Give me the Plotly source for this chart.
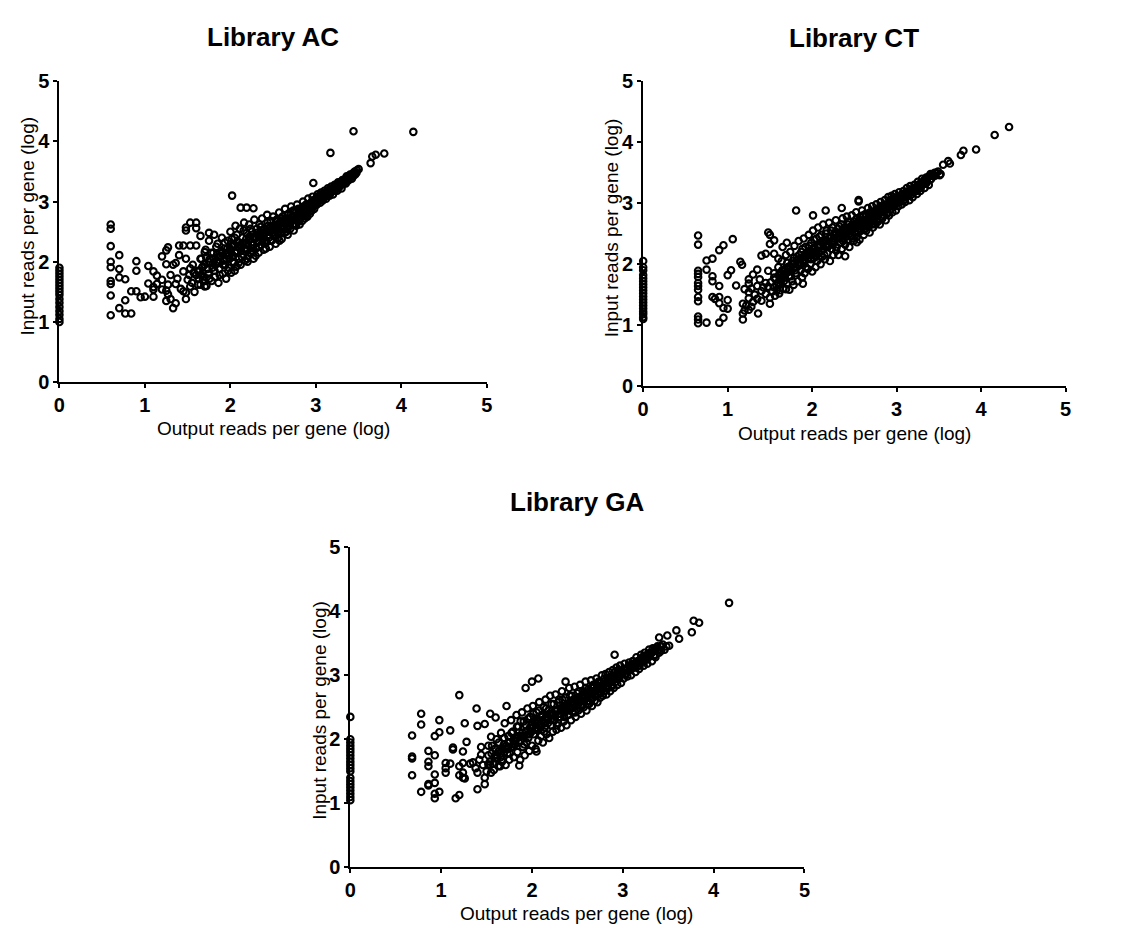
import plotly.graph_objects as go

# ---------------- data (log10 reads per gene) ----------------
panel_titles = ["Library AC", "Library CT", "Library GA"]
tick_vals = [0, 1, 2, 3, 4, 5]
x_title = "Output reads per gene (log)"
y_title = "Input reads per gene (log)"

# --- Library AC ---
ac_zero_y = [1.00, 1.05, 1.12, 1.18, 1.25, 1.32, 1.38, 1.45, 1.50, 1.55, 1.60, 1.65,
             1.70, 1.75, 1.80, 1.85, 1.90]
ac_sparse = [(0.60, 2.62), (0.60, 2.55), (0.60, 2.26), (0.60, 2.00), (0.60, 1.91),
             (0.60, 1.68), (0.60, 1.63), (0.60, 1.44), (0.60, 1.11), (0.70, 2.11),
             (0.70, 1.88), (0.70, 1.74), (0.70, 1.23), (0.77, 1.71), (0.77, 1.36),
             (0.77, 1.14), (0.84, 1.14), (0.84, 1.51), (0.90, 2.01), (0.90, 1.85),
             (0.90, 1.51), (0.95, 1.41), (1.00, 1.42), (1.04, 1.93), (1.04, 1.64),
             (1.10, 1.84), (1.10, 1.58), (1.10, 1.42), (1.10, 1.54), (1.14, 1.77),
             (1.14, 1.63), (1.20, 2.09), (1.20, 1.70), (1.20, 1.54), (1.25, 2.19),
             (1.25, 1.96), (1.25, 1.52), (1.25, 1.35), (1.27, 2.24), (1.27, 1.62),
             (1.27, 1.46), (1.30, 1.78), (1.30, 1.38), (1.33, 1.23), (1.33, 1.95),
             (1.36, 1.98), (1.36, 1.63), (1.36, 1.31), (1.40, 2.27), (1.40, 2.11),
             (1.45, 2.27), (1.45, 1.84), (1.45, 1.51), (1.48, 2.57), (1.48, 2.52),
             (1.48, 2.05), (1.48, 1.49), (1.48, 1.38), (1.53, 2.65), (1.53, 2.27),
             (1.53, 1.89), (1.53, 1.59), (1.60, 2.65), (1.60, 2.56), (1.60, 2.27),
             (1.60, 1.78), (1.65, 2.43), (1.65, 2.05), (1.65, 1.62), (1.70, 2.16),
             (1.70, 1.68), (1.70, 1.59), (1.75, 2.48), (1.75, 2.00), (1.38, 1.72),
             (1.42, 1.55), (1.50, 1.70), (1.56, 1.95), (1.58, 1.50), (1.62, 1.85),
             (1.52, 1.78), (1.55, 1.65), (1.57, 1.82), (1.63, 1.72), (1.67, 1.90)]
ac_band = [(1.62, 1.62), (1.64, 1.85), (1.66, 2.05), (1.68, 1.70), (1.70, 1.95),
           (1.71, 2.20), (1.72, 1.60), (1.74, 1.80), (1.75, 2.35), (1.76, 2.05),
           (1.78, 1.68), (1.79, 1.90), (1.80, 2.15), (1.81, 2.45), (1.82, 1.75),
           (1.84, 2.00), (1.85, 2.30), (1.86, 1.65), (1.87, 1.88), (1.88, 2.10),
           (1.90, 2.40), (1.91, 1.80), (1.92, 2.02), (1.93, 2.22), (1.94, 1.95),
           (1.95, 1.72), (1.96, 2.15), (1.97, 2.35), (1.98, 1.90), (1.99, 2.05),
           (2.00, 2.50), (2.01, 1.82), (2.02, 2.25), (2.03, 2.10), (2.04, 1.98),
           (2.05, 2.40), (2.06, 2.60), (2.07, 1.92), (2.08, 2.18), (2.09, 2.32),
           (2.10, 2.05), (2.11, 2.55), (2.12, 1.95), (2.13, 2.25), (2.14, 2.40),
           (2.15, 2.12), (2.16, 2.65), (2.17, 2.02), (2.18, 2.30), (2.19, 2.48),
           (2.20, 2.20), (2.21, 2.10), (2.22, 2.62), (2.23, 2.38), (2.24, 2.15),
           (2.25, 2.50), (2.26, 2.28), (2.27, 2.05), (2.28, 2.70), (2.29, 2.42),
           (2.30, 2.22), (2.31, 2.55), (2.32, 2.32), (2.33, 2.15), (2.34, 2.62),
           (2.35, 2.45), (2.36, 2.28), (2.37, 2.72), (2.38, 2.38), (2.39, 2.20),
           (2.40, 2.55), (2.41, 2.48), (2.42, 2.32), (2.43, 2.78), (2.44, 2.60),
           (2.45, 2.40), (2.46, 2.25), (2.47, 2.68), (2.48, 2.52), (2.49, 2.36),
           (2.50, 2.75), (2.51, 2.60), (2.52, 2.45), (2.53, 2.30), (2.54, 2.70),
           (2.55, 2.55), (2.56, 2.40), (2.57, 2.82), (2.58, 2.65), (2.59, 2.50),
           (2.60, 2.38), (2.61, 2.75), (2.62, 2.60), (2.63, 2.48), (2.64, 2.88),
           (2.65, 2.70), (2.66, 2.55), (2.67, 2.45), (2.68, 2.80), (2.69, 2.65),
           (2.70, 2.55), (2.71, 2.92), (2.72, 2.75), (2.73, 2.62), (2.74, 2.52),
           (2.75, 2.85), (2.76, 2.70), (2.77, 2.60), (2.78, 2.95), (2.79, 2.80),
           (2.80, 2.68), (2.81, 2.62), (2.82, 2.88), (2.83, 2.75), (2.84, 2.68),
           (2.85, 3.00), (2.86, 2.82), (2.87, 2.72), (2.88, 2.92), (2.89, 2.80),
           (2.90, 2.75), (2.91, 3.05), (2.92, 2.88), (2.93, 2.80), (2.94, 2.98),
           (2.95, 2.85), (2.96, 3.08), (2.97, 2.92), (2.98, 2.88), (3.00, 3.05),
           (3.01, 2.95), (3.02, 3.12), (3.03, 3.00), (3.05, 2.98), (3.06, 3.15),
           (3.07, 3.05), (3.08, 3.02), (3.10, 3.18), (3.11, 3.08), (3.12, 3.05),
           (3.14, 3.22), (3.15, 3.12), (3.16, 3.10), (3.18, 3.25), (3.19, 3.18),
           (3.20, 3.12), (3.22, 3.28), (3.23, 3.20), (3.25, 3.18), (3.26, 3.32),
           (3.28, 3.25), (3.30, 3.22), (3.31, 3.36), (3.33, 3.30), (3.35, 3.30),
           (3.36, 3.42), (3.38, 3.35), (3.40, 3.45), (3.42, 3.38), (3.44, 3.48),
           (3.46, 3.45), (3.48, 3.52), (3.50, 3.54)]
ac_band2 = [(1.655, 1.78), (1.675, 1.92), (1.695, 1.75), (1.715, 2.08), (1.735, 1.88),
            (1.755, 1.72), (1.775, 2.15), (1.795, 1.98), (1.815, 1.85), (1.835, 2.25),
            (1.855, 2.08), (1.875, 1.78), (1.895, 2.18), (1.915, 1.95), (1.935, 2.32),
            (1.955, 2.05), (1.975, 1.85), (1.995, 2.22), (2.015, 2.38), (2.035, 2.00),
            (2.055, 2.15), (2.075, 2.45), (2.095, 1.98), (2.115, 2.28), (2.135, 2.08),
            (2.155, 2.52), (2.175, 2.20), (2.195, 2.05), (2.215, 2.35), (2.235, 2.55),
            (2.255, 2.18), (2.275, 2.40), (2.295, 2.10), (2.315, 2.45), (2.335, 2.25),
            (2.355, 2.58), (2.375, 2.35), (2.395, 2.48), (2.415, 2.22), (2.435, 2.65),
            (2.455, 2.50), (2.475, 2.35), (2.495, 2.58), (2.515, 2.42), (2.535, 2.68),
            (2.555, 2.48), (2.575, 2.35), (2.595, 2.72), (2.615, 2.55), (2.635, 2.65),
            (2.655, 2.50), (2.675, 2.78), (2.695, 2.60), (2.715, 2.68), (2.735, 2.85),
            (2.755, 2.62), (2.775, 2.75), (2.795, 2.88), (2.815, 2.72), (2.835, 2.82),
            (2.855, 2.92), (2.875, 2.78), (2.895, 2.88), (2.915, 2.95), (2.935, 2.85),
            (2.955, 2.92), (2.975, 3.02), (2.995, 2.95), (3.015, 3.08), (3.035, 3.02),
            (3.055, 3.10), (3.075, 3.12), (3.095, 3.08), (3.115, 3.15), (3.135, 3.10),
            (3.155, 3.20), (3.175, 3.15), (3.195, 3.22), (3.215, 3.18), (3.235, 3.25),
            (3.255, 3.22), (3.275, 3.30), (3.295, 3.28), (3.315, 3.30), (3.335, 3.35),
            (3.355, 3.35), (3.375, 3.40), (3.395, 3.40), (3.415, 3.44), (3.435, 3.42),
            (3.455, 3.50), (3.475, 3.48)]
ac_core = [(1.805, 2.05), (1.825, 1.95), (1.845, 2.12), (1.865, 1.98), (1.885, 2.08),
           (1.905, 2.15), (1.925, 2.02), (1.945, 2.12), (1.965, 2.22), (1.985, 2.10),
           (2.005, 2.18), (2.025, 2.08), (2.045, 2.28), (2.065, 2.15), (2.085, 2.25),
           (2.105, 2.32), (2.125, 2.18), (2.145, 2.30), (2.165, 2.22), (2.185, 2.38),
           (2.205, 2.28), (2.225, 2.42), (2.245, 2.32), (2.265, 2.22), (2.285, 2.38),
           (2.305, 2.48), (2.325, 2.35), (2.345, 2.42), (2.365, 2.52), (2.385, 2.42),
           (2.405, 2.35), (2.425, 2.52), (2.445, 2.45), (2.465, 2.58), (2.485, 2.48),
           (2.505, 2.55), (2.525, 2.62), (2.545, 2.52), (2.565, 2.60), (2.585, 2.68),
           (2.605, 2.58), (2.625, 2.70), (2.645, 2.62), (2.665, 2.72), (2.685, 2.68),
           (2.705, 2.78), (2.725, 2.70), (2.745, 2.76), (2.765, 2.82), (2.785, 2.75),
           (2.805, 2.85), (2.825, 2.80), (2.845, 2.88), (2.865, 2.85), (2.885, 2.95),
           (2.905, 2.90), (2.925, 2.88), (2.945, 2.98), (2.965, 2.95), (2.985, 3.00),
           (3.025, 3.05), (3.045, 3.08), (3.065, 3.05), (3.085, 3.12), (3.105, 3.10),
           (3.125, 3.15), (3.145, 3.15), (3.165, 3.18), (3.185, 3.20), (3.205, 3.22),
           (3.225, 3.22), (3.245, 3.28), (3.265, 3.26), (3.285, 3.32), (3.305, 3.30),
           (3.325, 3.34), (3.345, 3.38), (3.365, 3.38), (3.385, 3.42), (3.405, 3.42),
           (3.425, 3.46), (3.445, 3.46)]
ac_high = [(3.44, 4.17), (4.14, 4.16), (3.17, 3.81), (3.80, 3.80), (3.70, 3.78),
           (3.66, 3.75), (3.64, 3.64), (2.97, 3.31), (2.02, 3.10), (2.12, 2.90),
           (2.19, 2.90), (2.27, 2.89), (2.20, 2.00), (2.05, 1.85)]

# --- Library CT ---
ct_zero_y = [1.10, 1.13, 1.18, 1.22, 1.27, 1.32, 1.37, 1.42, 1.47, 1.52, 1.57, 1.62,
             1.67, 1.72, 1.77, 1.82, 1.90, 1.95, 2.05]
ct_sparse = [(0.65, 2.47), (0.65, 2.32), (0.65, 1.89), (0.65, 1.84), (0.65, 1.79),
             (0.65, 1.69), (0.65, 1.64), (0.65, 1.58), (0.65, 1.46), (0.65, 1.39),
             (0.65, 1.14), (0.65, 1.09), (0.65, 1.03), (0.75, 2.06), (0.75, 1.91),
             (0.75, 1.04), (0.82, 2.09), (0.82, 1.80), (0.82, 1.72), (0.82, 1.46),
             (0.85, 1.43), (0.90, 2.23), (0.90, 1.64), (0.90, 1.46), (0.90, 1.36),
             (0.90, 1.04), (0.95, 2.31), (0.95, 1.28), (0.95, 1.12), (1.00, 1.82),
             (1.00, 1.41), (1.00, 1.27), (1.04, 1.90), (1.06, 2.41), (1.10, 1.65),
             (1.15, 2.04), (1.17, 1.99), (1.18, 1.09), (1.18, 1.19), (1.18, 1.35),
             (1.20, 1.24), (1.20, 1.59), (1.25, 1.75), (1.25, 1.68), (1.25, 1.54),
             (1.25, 1.44), (1.25, 1.25), (1.30, 1.83), (1.30, 1.38), (1.35, 1.91),
             (1.35, 1.64), (1.35, 1.43), (1.36, 1.19), (1.40, 2.14), (1.40, 1.56),
             (1.40, 1.40), (1.45, 2.17), (1.45, 1.69), (1.45, 1.51), (1.48, 2.52),
             (1.48, 1.89), (1.48, 1.63), (1.50, 2.48), (1.50, 2.33), (1.50, 1.35),
             (1.55, 2.17), (1.55, 2.39), (1.55, 1.78), (1.60, 2.09), (1.60, 1.69),
             (1.65, 2.28), (1.70, 2.35), (1.28, 1.60), (1.32, 1.50), (1.38, 1.75),
             (1.42, 1.62), (1.22, 1.32), (1.28, 1.30)]
ct_band = [(1.50, 1.45), (1.51, 1.70), (1.53, 1.55), (1.55, 1.85), (1.56, 1.48),
           (1.58, 1.65), (1.60, 1.95), (1.61, 1.52), (1.63, 1.75), (1.64, 2.05),
           (1.66, 1.60), (1.67, 1.88), (1.69, 2.15), (1.70, 1.68), (1.71, 1.95),
           (1.73, 1.58), (1.74, 2.20), (1.75, 1.80), (1.77, 2.05), (1.78, 1.66),
           (1.79, 2.30), (1.80, 1.90), (1.82, 2.12), (1.83, 1.72), (1.84, 2.38),
           (1.85, 1.98), (1.87, 2.20), (1.88, 1.78), (1.89, 2.05), (1.90, 2.42),
           (1.91, 1.85), (1.92, 2.28), (1.93, 2.12), (1.95, 1.92), (1.96, 2.48),
           (1.97, 2.18), (1.98, 2.00), (1.99, 2.35), (2.00, 1.88), (2.01, 2.55),
           (2.02, 2.10), (2.03, 2.25), (2.04, 1.95), (2.05, 2.42), (2.06, 2.05),
           (2.07, 2.60), (2.08, 2.18), (2.09, 2.32), (2.10, 2.00), (2.11, 2.48),
           (2.12, 2.12), (2.13, 2.65), (2.14, 2.25), (2.15, 2.08), (2.16, 2.40),
           (2.17, 2.55), (2.18, 2.18), (2.19, 2.32), (2.20, 2.68), (2.21, 2.05),
           (2.22, 2.45), (2.23, 2.25), (2.24, 2.60), (2.25, 2.15), (2.26, 2.38),
           (2.27, 2.52), (2.28, 2.72), (2.29, 2.28), (2.30, 2.45), (2.31, 2.15),
           (2.32, 2.62), (2.33, 2.35), (2.34, 2.52), (2.35, 2.25), (2.36, 2.75),
           (2.37, 2.42), (2.38, 2.60), (2.39, 2.32), (2.40, 2.50), (2.41, 2.78),
           (2.42, 2.40), (2.43, 2.65), (2.44, 2.28), (2.45, 2.55), (2.46, 2.45),
           (2.47, 2.80), (2.48, 2.62), (2.49, 2.38), (2.50, 2.70), (2.51, 2.52),
           (2.52, 2.85), (2.53, 2.45), (2.54, 2.65), (2.55, 2.58), (2.56, 2.40),
           (2.57, 2.78), (2.58, 2.55), (2.59, 2.88), (2.60, 2.68), (2.61, 2.48),
           (2.62, 2.62), (2.63, 2.82), (2.64, 2.55), (2.65, 2.72), (2.66, 2.92),
           (2.67, 2.62), (2.68, 2.52), (2.69, 2.80), (2.70, 2.70), (2.71, 2.95),
           (2.72, 2.60), (2.73, 2.85), (2.74, 2.75), (2.75, 2.65), (2.76, 2.98),
           (2.77, 2.80), (2.78, 2.70), (2.79, 2.90), (2.80, 2.65), (2.81, 3.02),
           (2.82, 2.85), (2.83, 2.75), (2.84, 2.95), (2.85, 2.80), (2.86, 3.05),
           (2.87, 2.72), (2.88, 2.92), (2.89, 2.85), (2.90, 3.10), (2.91, 2.80),
           (2.92, 2.98), (2.93, 2.90), (2.94, 3.12), (2.95, 2.85), (2.96, 3.02),
           (2.97, 2.95), (2.98, 3.15), (2.99, 2.88), (3.00, 3.05), (3.02, 2.95),
           (3.03, 3.18), (3.05, 3.08), (3.06, 2.98), (3.08, 3.20), (3.09, 3.10),
           (3.10, 3.02), (3.12, 3.25), (3.13, 3.15), (3.15, 3.05), (3.16, 3.28),
           (3.18, 3.18), (3.19, 3.10), (3.21, 3.30), (3.22, 3.22), (3.24, 3.15),
           (3.25, 3.35), (3.27, 3.28), (3.28, 3.20), (3.30, 3.40), (3.31, 3.32),
           (3.33, 3.25), (3.35, 3.42), (3.36, 3.35), (3.38, 3.30), (3.40, 3.48),
           (3.41, 3.40), (3.43, 3.45), (3.45, 3.50), (3.47, 3.50), (3.49, 3.52),
           (3.52, 3.48)]
ct_band2 = [(1.545, 1.62), (1.565, 1.75), (1.585, 1.58), (1.605, 1.82), (1.625, 1.68),
            (1.645, 1.90), (1.665, 1.72), (1.685, 1.85), (1.705, 2.02), (1.725, 1.80),
            (1.745, 1.95), (1.765, 1.72), (1.785, 2.10), (1.805, 1.85), (1.825, 2.00),
            (1.845, 2.15), (1.865, 1.90), (1.885, 2.25), (1.905, 2.02), (1.925, 1.95),
            (1.945, 2.18), (1.965, 2.30), (1.985, 2.08), (2.005, 2.20), (2.025, 2.40),
            (2.045, 2.12), (2.065, 2.28), (2.085, 2.45), (2.105, 2.22), (2.125, 2.35),
            (2.145, 2.15), (2.165, 2.50), (2.185, 2.28), (2.205, 2.42), (2.225, 2.55),
            (2.245, 2.32), (2.265, 2.48), (2.285, 2.22), (2.305, 2.58), (2.325, 2.42),
            (2.345, 2.65), (2.365, 2.38), (2.385, 2.55), (2.405, 2.45), (2.425, 2.70),
            (2.445, 2.50), (2.465, 2.62), (2.485, 2.42), (2.505, 2.60), (2.525, 2.75),
            (2.545, 2.52), (2.565, 2.68), (2.585, 2.62), (2.605, 2.80), (2.625, 2.58),
            (2.645, 2.72), (2.665, 2.68), (2.685, 2.85), (2.705, 2.65), (2.725, 2.78),
            (2.745, 2.88), (2.765, 2.72), (2.785, 2.82), (2.805, 2.95), (2.825, 2.78),
            (2.845, 2.88), (2.865, 2.95), (2.885, 2.82), (2.905, 2.95), (2.925, 3.05),
            (2.945, 2.95), (2.965, 3.08), (2.985, 3.00), (3.015, 3.10), (3.035, 3.02),
            (3.065, 3.15), (3.085, 3.05), (3.115, 3.18), (3.135, 3.12), (3.165, 3.22),
            (3.185, 3.15), (3.215, 3.25), (3.235, 3.20), (3.265, 3.30), (3.285, 3.25),
            (3.315, 3.35), (3.345, 3.32), (3.365, 3.42), (3.395, 3.38), (3.425, 3.48),
            (3.455, 3.45)]
ct_core = [(1.615, 1.78), (1.635, 1.85), (1.655, 1.80), (1.675, 1.92), (1.695, 1.85),
           (1.715, 1.92), (1.735, 1.88), (1.755, 2.00), (1.775, 1.92), (1.795, 2.02),
           (1.815, 1.95), (1.835, 2.08), (1.855, 2.02), (1.875, 2.10), (1.895, 2.12),
           (1.915, 2.08), (1.935, 2.15), (1.955, 2.10), (1.975, 2.22), (1.995, 2.15),
           (2.015, 2.25), (2.035, 2.18), (2.055, 2.22), (2.075, 2.32), (2.095, 2.28),
           (2.115, 2.22), (2.135, 2.38), (2.155, 2.30), (2.175, 2.38), (2.195, 2.32),
           (2.215, 2.45), (2.235, 2.38), (2.255, 2.42), (2.275, 2.50), (2.295, 2.42),
           (2.315, 2.50), (2.335, 2.45), (2.355, 2.55), (2.375, 2.50), (2.395, 2.58),
           (2.415, 2.52), (2.435, 2.60), (2.455, 2.55), (2.475, 2.65), (2.495, 2.58),
           (2.515, 2.66), (2.535, 2.62), (2.555, 2.72), (2.575, 2.68), (2.595, 2.72),
           (2.615, 2.70), (2.635, 2.78), (2.655, 2.75), (2.675, 2.80), (2.695, 2.76),
           (2.715, 2.85), (2.735, 2.80), (2.755, 2.86), (2.775, 2.88), (2.795, 2.85),
           (2.815, 2.92), (2.835, 2.90), (2.855, 2.92), (2.875, 2.98), (2.895, 2.92),
           (2.915, 3.00), (2.935, 3.02), (2.955, 2.98), (2.975, 3.05), (2.995, 3.02),
           (3.025, 3.08), (3.045, 3.08), (3.075, 3.10), (3.095, 3.14), (3.125, 3.15),
           (3.145, 3.18), (3.175, 3.20), (3.195, 3.22), (3.225, 3.25), (3.245, 3.28),
           (3.275, 3.32), (3.295, 3.32), (3.325, 3.38), (3.355, 3.38), (3.385, 3.44),
           (3.415, 3.45)]
ct_high = [(4.33, 4.25), (4.16, 4.12), (3.94, 3.88), (3.79, 3.86), (3.76, 3.79),
           (3.63, 3.65), (3.61, 3.69), (3.55, 3.63), (3.51, 3.46), (2.55, 3.05),
           (2.55, 3.03), (2.35, 2.92), (1.81, 2.88), (2.16, 2.88), (2.01, 2.80),
           (2.53, 2.36), (2.39, 2.13), (1.89, 1.68), (1.69, 1.59), (1.62, 1.57)]

# --- Library GA ---
ga_zero_y = [1.05, 1.10, 1.15, 1.20, 1.25, 1.30, 1.35, 1.40, 1.50, 1.55, 1.60, 1.65,
             1.70, 1.75, 1.80, 1.85, 1.90, 1.95, 2.00, 2.35]
ga_sparse = [(0.68, 2.06), (0.68, 1.73), (0.68, 1.70), (0.68, 1.44), (0.78, 2.40),
             (0.78, 2.23), (0.78, 1.18), (0.86, 1.82), (0.86, 1.58), (0.86, 1.65),
             (0.86, 1.30), (0.86, 1.28), (0.93, 2.05), (0.93, 1.75), (0.93, 1.45),
             (0.93, 1.32), (0.93, 1.15), (0.93, 1.08), (0.98, 2.11), (0.98, 2.30),
             (0.98, 1.18), (1.05, 1.55), (1.05, 1.48), (1.05, 1.63), (1.10, 2.14),
             (1.10, 1.62), (1.16, 1.08), (1.13, 1.87), (1.13, 1.84), (1.20, 1.58),
             (1.20, 1.13), (1.20, 1.44), (1.24, 1.81), (1.24, 1.63), (1.24, 1.48),
             (1.24, 1.40), (1.26, 2.25), (1.26, 1.39), (1.28, 1.96), (1.35, 1.64),
             (1.40, 2.21), (1.40, 1.22), (1.40, 1.48), (1.44, 1.88), (1.44, 1.76),
             (1.48, 2.24), (1.48, 1.30), (1.48, 1.40), (1.52, 1.61), (1.52, 1.90),
             (1.55, 2.04), (1.55, 1.48), (1.60, 2.34), (1.60, 1.76), (1.65, 1.58),
             (1.38, 1.55), (1.42, 1.68), (1.46, 1.60), (1.32, 1.62)]
ga_band = [(1.50, 1.50), (1.52, 1.75), (1.54, 1.60), (1.56, 1.90), (1.58, 1.52),
           (1.60, 1.70), (1.61, 2.00), (1.63, 1.58), (1.64, 1.82), (1.66, 2.10),
           (1.67, 1.65), (1.69, 1.92), (1.70, 2.25), (1.71, 1.60), (1.73, 1.78),
           (1.74, 2.05), (1.75, 1.68), (1.77, 2.30), (1.78, 1.88), (1.79, 2.12),
           (1.80, 1.72), (1.82, 1.98), (1.83, 2.38), (1.84, 1.80), (1.85, 2.20),
           (1.87, 1.68), (1.88, 2.05), (1.89, 2.42), (1.90, 1.88), (1.91, 2.28),
           (1.92, 1.75), (1.93, 2.12), (1.94, 1.95), (1.95, 2.48), (1.96, 2.02),
           (1.97, 1.82), (1.98, 2.35), (1.99, 2.18), (2.00, 1.90), (2.01, 2.52),
           (2.02, 2.08), (2.03, 2.28), (2.04, 1.85), (2.05, 2.42), (2.06, 2.15),
           (2.07, 1.98), (2.08, 2.58), (2.09, 2.25), (2.10, 2.05), (2.11, 2.38),
           (2.12, 1.95), (2.13, 2.50), (2.14, 2.18), (2.15, 2.62), (2.16, 2.08),
           (2.17, 2.32), (2.18, 2.45), (2.19, 2.02), (2.20, 2.68), (2.21, 2.22),
           (2.22, 2.38), (2.23, 2.12), (2.24, 2.55), (2.25, 2.30), (2.26, 2.70),
           (2.27, 2.15), (2.28, 2.45), (2.29, 2.25), (2.30, 2.62), (2.31, 2.35),
           (2.32, 2.18), (2.33, 2.75), (2.34, 2.50), (2.35, 2.28), (2.36, 2.42),
           (2.37, 2.65), (2.38, 2.22), (2.39, 2.55), (2.40, 2.38), (2.41, 2.80),
           (2.42, 2.48), (2.43, 2.30), (2.44, 2.68), (2.45, 2.42), (2.46, 2.58),
           (2.47, 2.82), (2.48, 2.35), (2.49, 2.52), (2.50, 2.72), (2.51, 2.45),
           (2.52, 2.62), (2.53, 2.85), (2.54, 2.40), (2.55, 2.55), (2.56, 2.75),
           (2.57, 2.50), (2.58, 2.65), (2.59, 2.90), (2.60, 2.45), (2.61, 2.60),
           (2.62, 2.78), (2.63, 2.55), (2.64, 2.70), (2.65, 2.92), (2.66, 2.52),
           (2.67, 2.65), (2.68, 2.82), (2.69, 2.60), (2.70, 2.75), (2.71, 2.95),
           (2.72, 2.58), (2.73, 2.70), (2.74, 2.88), (2.75, 2.65), (2.76, 2.80),
           (2.77, 3.00), (2.78, 2.68), (2.79, 2.85), (2.80, 2.75), (2.81, 3.02),
           (2.82, 2.70), (2.83, 2.90), (2.84, 2.80), (2.85, 3.05), (2.86, 2.75),
           (2.87, 2.95), (2.88, 2.85), (2.89, 3.08), (2.90, 2.80), (2.91, 2.98),
           (2.92, 2.90), (2.93, 3.12), (2.94, 2.85), (2.95, 3.02), (2.96, 2.95),
           (2.97, 3.15), (2.98, 2.88), (3.00, 3.05), (3.01, 2.95), (3.02, 3.18),
           (3.04, 3.08), (3.05, 2.98), (3.07, 3.20), (3.08, 3.10), (3.09, 3.00),
           (3.11, 3.22), (3.12, 3.12), (3.14, 3.05), (3.15, 3.28), (3.17, 3.18),
           (3.18, 3.10), (3.20, 3.32), (3.21, 3.22), (3.23, 3.15), (3.24, 3.35),
           (3.26, 3.25), (3.27, 3.18), (3.29, 3.40), (3.30, 3.30), (3.32, 3.22),
           (3.33, 3.42), (3.35, 3.32), (3.36, 3.28), (3.38, 3.45), (3.40, 3.35),
           (3.42, 3.38), (3.44, 3.48), (3.46, 3.40), (3.48, 3.45)]
ga_band2 = [(1.535, 1.65), (1.555, 1.78), (1.575, 1.62), (1.595, 1.85), (1.615, 1.72),
            (1.635, 1.95), (1.655, 1.78), (1.675, 1.68), (1.695, 2.02), (1.715, 1.85),
            (1.735, 1.95), (1.755, 1.78), (1.775, 2.10), (1.795, 1.92), (1.815, 2.02),
            (1.835, 2.20), (1.855, 1.95), (1.875, 2.28), (1.895, 2.05), (1.915, 1.92),
            (1.935, 2.22), (1.955, 2.32), (1.975, 2.08), (1.995, 2.22), (2.015, 2.40),
            (2.035, 2.15), (2.055, 2.30), (2.075, 2.45), (2.095, 2.18), (2.115, 2.35),
            (2.135, 2.12), (2.155, 2.48), (2.175, 2.25), (2.195, 2.40), (2.215, 2.55),
            (2.235, 2.30), (2.255, 2.45), (2.275, 2.22), (2.295, 2.58), (2.315, 2.40),
            (2.335, 2.62), (2.355, 2.35), (2.375, 2.52), (2.395, 2.45), (2.415, 2.68),
            (2.435, 2.48), (2.455, 2.62), (2.475, 2.42), (2.495, 2.58), (2.515, 2.75),
            (2.535, 2.52), (2.555, 2.68), (2.575, 2.60), (2.595, 2.80), (2.615, 2.55),
            (2.635, 2.72), (2.655, 2.65), (2.675, 2.85), (2.695, 2.68), (2.715, 2.78),
            (2.735, 2.90), (2.755, 2.72), (2.775, 2.82), (2.795, 2.95), (2.815, 2.80),
            (2.835, 2.88), (2.855, 2.95), (2.875, 2.82), (2.895, 2.95), (2.915, 3.05),
            (2.935, 2.95), (2.955, 3.08), (2.975, 3.00), (3.015, 3.10), (3.035, 3.02),
            (3.065, 3.15), (3.085, 3.08), (3.115, 3.18), (3.135, 3.12), (3.165, 3.22),
            (3.185, 3.15), (3.215, 3.28), (3.235, 3.22), (3.265, 3.32), (3.285, 3.28),
            (3.315, 3.35), (3.345, 3.30), (3.365, 3.42), (3.395, 3.40), (3.425, 3.45)]
ga_core = [(1.615, 1.75), (1.635, 1.82), (1.655, 1.72), (1.675, 1.85), (1.695, 1.80),
           (1.715, 1.90), (1.735, 1.85), (1.755, 1.95), (1.775, 1.88), (1.795, 1.98),
           (1.815, 1.92), (1.835, 2.02), (1.855, 2.05), (1.875, 1.98), (1.895, 2.10),
           (1.915, 2.05), (1.935, 2.12), (1.955, 2.08), (1.975, 2.18), (1.995, 2.12),
           (2.015, 2.20), (2.035, 2.25), (2.055, 2.18), (2.075, 2.28), (2.095, 2.22),
           (2.115, 2.30), (2.135, 2.25), (2.155, 2.35), (2.175, 2.30), (2.195, 2.38),
           (2.215, 2.32), (2.235, 2.40), (2.255, 2.36), (2.275, 2.45), (2.295, 2.40),
           (2.315, 2.48), (2.335, 2.45), (2.355, 2.52), (2.375, 2.48), (2.395, 2.55),
           (2.415, 2.50), (2.435, 2.58), (2.455, 2.54), (2.475, 2.62), (2.495, 2.58),
           (2.515, 2.65), (2.535, 2.60), (2.555, 2.70), (2.575, 2.66), (2.595, 2.72),
           (2.615, 2.68), (2.635, 2.76), (2.655, 2.72), (2.675, 2.80), (2.695, 2.76),
           (2.715, 2.84), (2.735, 2.80), (2.755, 2.88), (2.775, 2.85), (2.795, 2.90),
           (2.815, 2.88), (2.835, 2.95), (2.855, 2.90), (2.875, 2.98), (2.895, 2.95),
           (2.915, 3.00), (2.935, 3.02), (2.955, 2.98), (2.975, 3.05), (2.995, 3.02),
           (3.025, 3.08), (3.045, 3.10), (3.075, 3.12), (3.095, 3.15), (3.125, 3.15),
           (3.145, 3.20), (3.175, 3.20), (3.195, 3.25), (3.225, 3.25), (3.245, 3.30),
           (3.275, 3.30), (3.295, 3.35), (3.325, 3.36), (3.355, 3.40), (3.385, 3.40),
           (3.415, 3.45)]
ga_high = [(4.17, 4.13), (3.78, 3.85), (3.84, 3.82), (3.76, 3.67), (3.59, 3.70),
           (3.62, 3.57), (3.49, 3.62), (3.51, 3.46), (3.40, 3.59), (2.91, 3.32),
           (2.07, 2.95), (2.00, 2.90), (1.93, 2.80), (2.37, 2.90), (1.20, 2.69),
           (1.39, 2.48), (1.72, 2.52), (1.54, 2.40), (2.05, 1.81), (1.86, 1.59)]

# ---------------- layout geometry (pixels of a 1133 x 938 page) ----------------
W, H = 1133, 938
panels = [
    # plot box: left, right, top, bottom ; title centre ; x-title centre ; y-title centre
    dict(box=(54, 486, 72, 380), title=(270, 27), xt=(270, 428), yt=(22, 220)),
    dict(box=(644, 1071, 72, 384), title=(857, 28), xt=(858, 433), yt=(612, 222)),
    dict(box=(348, 807, 549, 877), title=(578, 503), xt=(577, 924), yt=(317, 716)),
]

datasets = [
    (ac_zero_y, ac_sparse + ac_band + ac_band2 + ac_core + ac_high),
    (ct_zero_y, ct_sparse + ct_band + ct_band2 + ct_core + ct_high),
    (ga_zero_y, ga_sparse + ga_band + ga_band2 + ga_core + ga_high),
]

FONT = "Liberation Sans, Arial, Helvetica, sans-serif"
marker = dict(symbol="circle-open", size=6.5, color="black", line=dict(width=2.1))

fig = go.Figure()
annotations = []
layout_axes = {}
for i, (p, (zero_y, pts)) in enumerate(zip(panels, datasets)):
    k = "" if i == 0 else str(i + 1)
    xs = [0.0] * len(zero_y) + [q[0] for q in pts]
    ys = list(zero_y) + [q[1] for q in pts]
    fig.add_trace(go.Scatter(x=xs, y=ys, mode="markers", marker=marker,
                             xaxis="x" + k, yaxis="y" + k, cliponaxis=False,
                             showlegend=False, hoverinfo="x+y"))
    l, r, t, b = p["box"]
    common = dict(range=[0, 5], tickvals=tick_vals, showgrid=False, zeroline=False,
                  showline=True, linecolor="black", linewidth=2, ticks="outside",
                  ticklen=4, tickwidth=2, tickcolor="black",
                  tickfont=dict(family=FONT, size=20, color="black", weight="bold"))
    layout_axes["xaxis" + k] = dict(domain=[l / W, r / W], anchor="y" + k, **common)
    layout_axes["yaxis" + k] = dict(domain=[1 - b / H, 1 - t / H], anchor="x" + k, **common)
    annotations.append(dict(text=panel_titles[i], x=p["title"][0] / W, y=1 - p["title"][1] / H,
                            xref="paper", yref="paper", showarrow=False,
                            xanchor="center", yanchor="middle",
                            font=dict(family=FONT, size=26, color="black", weight="bold")))
    annotations.append(dict(text=x_title, x=p["xt"][0] / W, y=1 - p["xt"][1] / H,
                            xref="paper", yref="paper", showarrow=False,
                            xanchor="center", yanchor="middle",
                            font=dict(family=FONT, size=19, color="black")))
    annotations.append(dict(text=y_title, x=p["yt"][0] / W, y=1 - p["yt"][1] / H,
                            xref="paper", yref="paper", showarrow=False, textangle=-90,
                            xanchor="center", yanchor="middle",
                            font=dict(family=FONT, size=19, color="black")))

fig.update_layout(width=W, height=H, margin=dict(l=0, r=0, t=0, b=0),
                  paper_bgcolor="white", plot_bgcolor="white",
                  annotations=annotations, **layout_axes)

fig.write_html("out.html")
